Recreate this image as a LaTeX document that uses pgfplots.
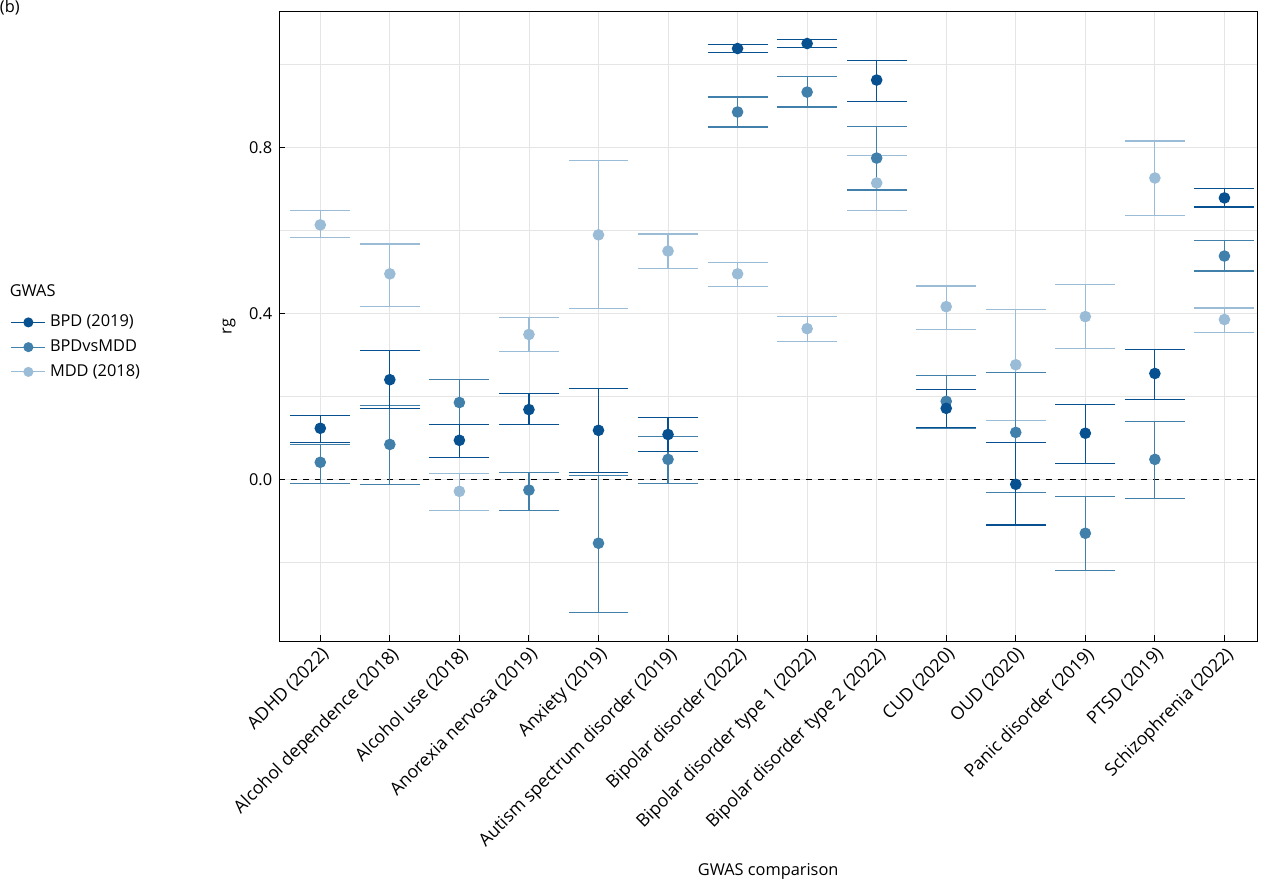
\documentclass[border=0pt]{standalone}
\usepackage{pgfplots}
\usepackage{pgfplotstable}
\pgfplotsset{compat=1.18}
\usepackage{fontspec}
\setmainfont{Open Sans}
\definecolor{cA}{RGB}{8,81,145}
\definecolor{cB}{RGB}{66,128,172}
\definecolor{cC}{RGB}{155,188,214}
\pgfplotstableread{
x y lo hi
0 0.123 0.089 0.154
1 0.240 0.171 0.310
2 0.094 0.053 0.132
3 0.168 0.132 0.207
4 0.118 0.017 0.219
5 0.108 0.067 0.149
6 1.038 1.029 1.048
7 1.050 1.041 1.060
8 0.962 0.911 1.010
9 0.171 0.125 0.216
10 -0.012 -0.110 0.089
11 0.111 0.038 0.180
12 0.255 0.192 0.313
13 0.678 0.656 0.700
}\tA
\pgfplotstableread{
x y lo hi
0 0.041 -0.010 0.084
1 0.084 -0.012 0.178
2 0.185 0.132 0.240
3 -0.026 -0.075 0.017
4 -0.154 -0.320 0.010
5 0.048 -0.010 0.103
6 0.885 0.849 0.921
7 0.933 0.897 0.971
8 0.774 0.697 0.851
9 0.188 0.123 0.250
10 0.113 -0.031 0.257
11 -0.130 -0.219 -0.041
12 0.048 -0.046 0.139
13 0.538 0.502 0.575
}\tB
\pgfplotstableread{
x y lo hi
0 0.613 0.582 0.647
1 0.495 0.416 0.567
2 -0.029 -0.075 0.014
3 0.349 0.308 0.389
4 0.589 0.411 0.769
5 0.550 0.507 0.591
6 0.495 0.464 0.522
7 0.363 0.332 0.392
8 0.714 0.647 0.781
9 0.416 0.361 0.466
10 0.276 0.142 0.409
11 0.392 0.315 0.469
12 0.726 0.635 0.815
13 0.385 0.353 0.413
}\tC
\begin{document}
\begin{tikzpicture}
\begin{axis}[
  scale only axis, width=490pt, height=315.5pt, clip=false,
  xmin=-0.59, xmax=13.47, ymin=-0.39, ymax=1.127,
  xtick={0,...,13},
  xticklabels={ADHD (2022),Alcohol dependence (2018),Alcohol use (2018),Anorexia nervosa (2019),Anxiety (2019),Autism spectrum disorder (2019),Bipolar disorder (2022),Bipolar disorder type 1 (2022),Bipolar disorder type 2 (2022),CUD (2020),OUD (2020),Panic disorder (2019),PTSD (2019),Schizophrenia (2022)},
  x tick label style={rotate=45, anchor=north east, font=\fontsize{8.9}{9}\selectfont, inner sep=1.5pt},
  ytick={0,0.4,0.8}, minor ytick={-0.2,0.2,0.6,1.0},
  yticklabel style={/pgf/number format/fixed, /pgf/number format/fixed zerofill, /pgf/number format/precision=1, /pgf/number format/assume math mode=true, font=\fontsize{8.2}{9}\selectfont},
  grid=both, major grid style={gray!20, line width=0.4pt}, minor grid style={gray!20, line width=0.4pt},
  tick style={black, line width=0.5pt}, major tick length=3pt, minor tick length=0pt,
  xtick pos=bottom, ytick pos=left,
  axis line style={line width=0.6pt},
  xlabel={GWAS comparison}, ylabel={rg},
  label style={font=\fontsize{8.2}{9}\selectfont},
  xlabel style={yshift=-1pt},
  legend style={at={(-0.275,0.467)}, anchor=west, draw=none, fill=none, font=\fontsize{8.2}{9}\selectfont, row sep=1pt, inner sep=0pt},
  legend cell align=left,
]
\addplot[black, dashed, line width=0.5pt, forget plot] coordinates {(-0.59,0) (13.47,0)};
\addplot[cC, only marks, mark=*, mark size=2.6pt, line width=0.6pt, forget plot,
  error bars/.cd, y dir=both, y explicit, error bar style={line width=0.6pt, cC},
  error mark options={rotate=90, mark size=15pt, line width=0.6pt, cC}]
  table[x=x,y=y,y error plus expr=\thisrow{hi}-\thisrow{y}, y error minus expr=\thisrow{y}-\thisrow{lo}]{\tC};
\addplot[cB, only marks, mark=*, mark size=2.6pt, line width=0.6pt, forget plot,
  error bars/.cd, y dir=both, y explicit, error bar style={line width=0.6pt, cB},
  error mark options={rotate=90, mark size=15pt, line width=0.6pt, cB}]
  table[x=x,y=y,y error plus expr=\thisrow{hi}-\thisrow{y}, y error minus expr=\thisrow{y}-\thisrow{lo}]{\tB};
\addplot[cA, only marks, mark=*, mark size=2.6pt, line width=0.6pt, forget plot,
  error bars/.cd, y dir=both, y explicit, error bar style={line width=0.6pt, cA},
  error mark options={rotate=90, mark size=15pt, line width=0.6pt, cA}]
  table[x=x,y=y,y error plus expr=\thisrow{hi}-\thisrow{y}, y error minus expr=\thisrow{y}-\thisrow{lo}]{\tA};
\addlegendimage{cA, mark=*, mark size=2.2pt, line width=0.6pt}
\addlegendentry{BPD (2019)}
\addlegendimage{cB, mark=*, mark size=2.2pt, line width=0.6pt}
\addlegendentry{BPDvsMDD}
\addlegendimage{cC, mark=*, mark size=2.2pt, line width=0.6pt}
\addlegendentry{MDD (2018)}
\node[anchor=west, font=\fontsize{8.2}{9}\selectfont, inner sep=0pt] at (rel axis cs:-0.276,0.557) {GWAS};
\node[anchor=north west, font=\fontsize{8.2}{9}\selectfont, inner sep=0pt] at (rel axis cs:-0.286,1.019) {(b)};
\end{axis}
\end{tikzpicture}
\end{document}
